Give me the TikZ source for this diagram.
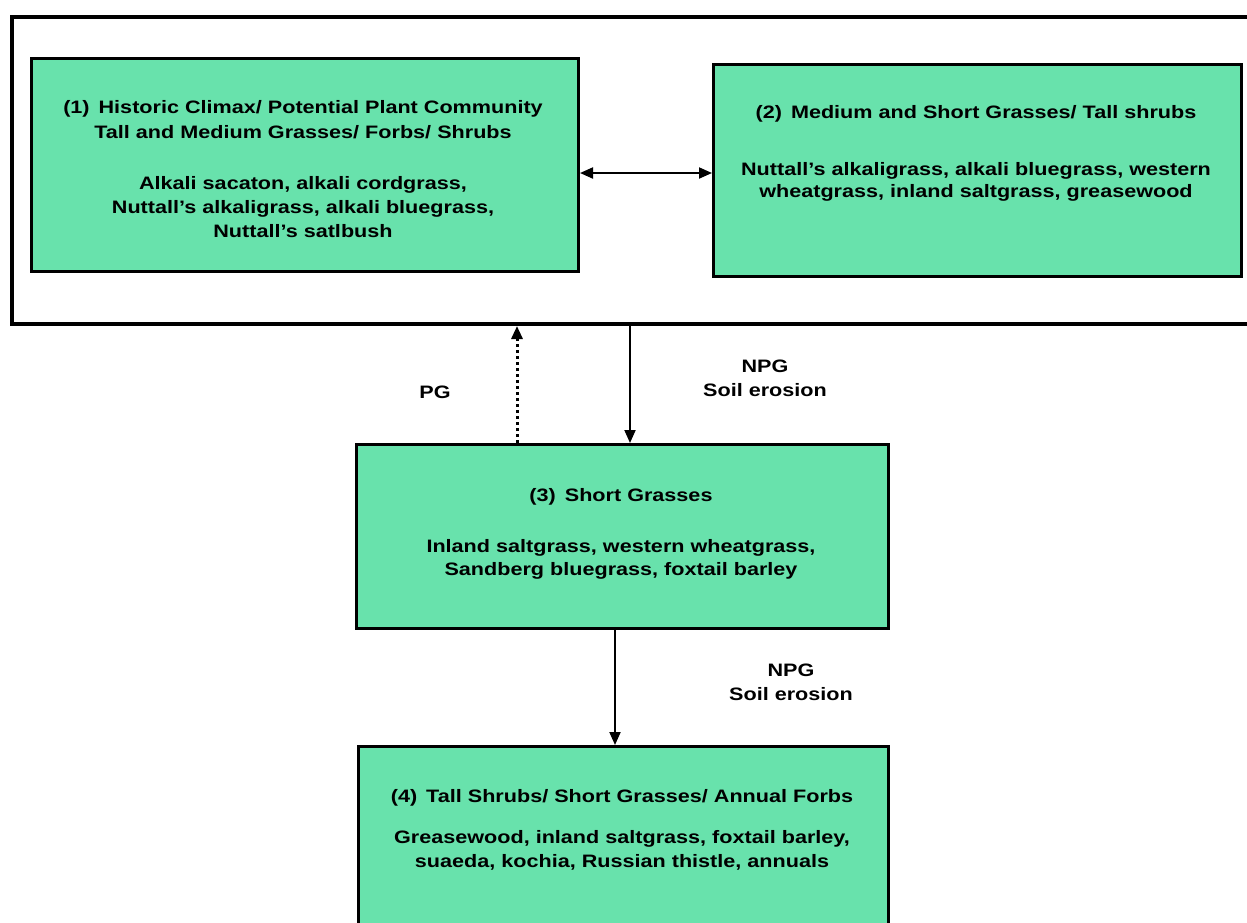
\documentclass[tikz,border=0pt]{standalone}
\usepackage{fontspec}
\setmainfont{Liberation Sans}[FakeStretch=1.2]
\usetikzlibrary{arrows.meta}
\definecolor{mint}{RGB}{104,226,172}
\begin{document}
\begin{tikzpicture}[x=1pt,y=-1pt,
  outerbox/.style={draw=black, line width=4pt, anchor=north west, inner sep=0pt},
  box/.style={draw=black, line width=3pt, fill=mint, anchor=north west, inner sep=0pt},
  txt/.style={font=\bfseries\fontsize{18}{24}\selectfont, align=center, inner sep=0pt},
  arr/.style={line width=2pt, -{Triangle[length=13pt,width=11pt]}},
  dbl/.style={line width=2pt, {Triangle[length=13pt,width=11pt]}-{Triangle[length=13pt,width=11pt]}},
  dotarr/.style={arr, line width=3pt, dash pattern=on 3pt off 3pt}]
\useasboundingbox (0,0) rectangle (1247,922);
\fill[white] (0,0) rectangle (1247,922);
\node[outerbox, minimum width=1260pt, minimum height=307pt] (outer) at (10,15) {};
\node[box, minimum width=547pt, minimum height=213pt] (b1) at (30,57) {};
\node[box, minimum width=528pt, minimum height=212pt] (b2) at (712,63) {};
\node[box, minimum width=532pt, minimum height=184pt] (b3) at (355,443) {};
\node[box, minimum width=530pt, minimum height=200pt] (b4) at (357,745) {};
\node[txt] (t1) at (303,169) {(1)\hspace{0.5em}Historic Climax/ Potential Plant Community\\[1pt]Tall and Medium Grasses/ Forbs/ Shrubs\\[27pt]Alkali sacaton, alkali cordgrass,\\Nuttall’s alkaligrass, alkali bluegrass,\\Nuttall’s satlbush};
\node[txt] (t2) at (976,153) {(2)\hspace{0.5em}Medium and Short Grasses/ Tall shrubs\\[33pt]Nuttall’s alkaligrass, alkali bluegrass, western\\[-2pt]wheatgrass, inland saltgrass, greasewood};
\node[txt] (t3) at (621,534) {(3)\hspace{0.5em}Short Grasses\\[27pt]Inland saltgrass, western wheatgrass,\\[-1pt]Sandberg bluegrass, foxtail barley};
\node[txt] (t4) at (622,830) {(4)\hspace{0.5em}Tall Shrubs/ Short Grasses/ Annual Forbs\\[17pt]Greasewood, inland saltgrass, foxtail barley,\\suaeda, kochia, Russian thistle, annuals};
\node[txt] (pg) at (435,392) {PG};
\node[txt] (npg1) at (765,378) {NPG\\Soil erosion};
\node[txt] (npg2) at (791,682) {NPG\\Soil erosion};
\draw[dbl] (b1.east |- 0,173) -- (b2.west |- 0,173);
\draw[dotarr] (b3.north -| 517,0) -- (outer.south -| 517,0);
\draw[arr] (outer.south -| 630,0) -- (b3.north -| 630,0);
\draw[arr] (b3.south -| 615,0) -- (b4.north -| 615,0);
\end{tikzpicture}
\end{document}
